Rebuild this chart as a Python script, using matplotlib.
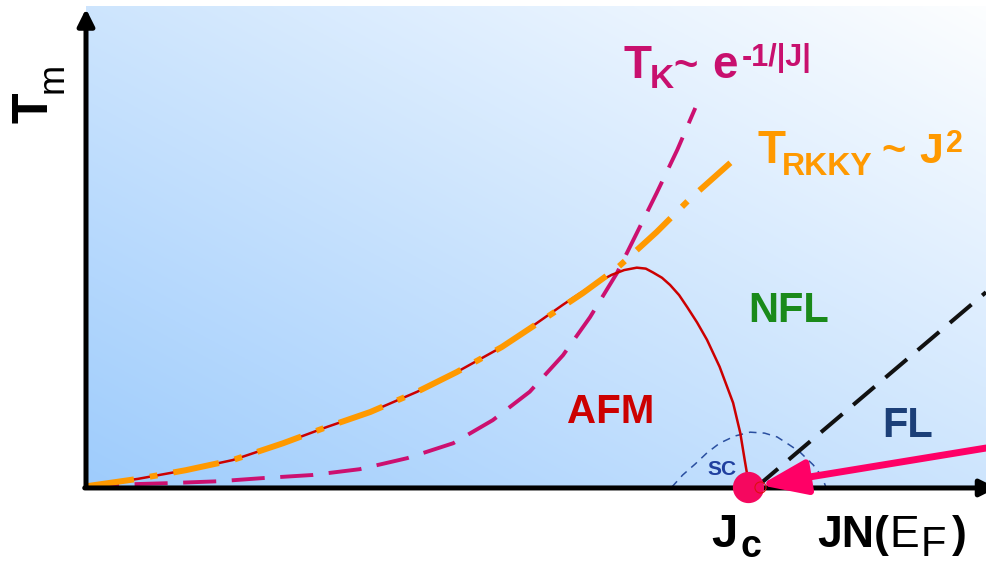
import numpy as np
import matplotlib.pyplot as plt
from matplotlib.patches import FancyArrowPatch

plt.rcParams['font.family'] = ['Liberation Sans', 'DejaVu Sans']

# Doniach phase diagram, J in arbitrary units (0..100), T in arbitrary units (0..100)
afm_j = [0.2, 5.8, 11.1, 16.3, 21.9, 26.8, 31.6, 36.8, 41.2, 46.2, 48.5, 50.8,
         53.0, 55.0, 56.8, 58.4, 59.8, 61.2, 62.2, 63.0, 64.0, 64.9, 65.9, 66.8,
         67.9, 69.0, 70.4, 71.9, 72.7, 73.2, 73.7]
afm_t = [0.2, 1.7, 3.5, 5.6, 9.1, 12.5, 15.6, 19.8, 23.9, 29.1, 32.0, 35.0,
         37.9, 40.4, 42.5, 44.1, 45.1, 45.6, 45.4, 44.6, 43.5, 42.0, 39.9, 37.4,
         34.2, 30.6, 25.0, 17.5, 11.2, 5.5, 0.0]

rkky_j = [0.2, 5.8, 11.1, 16.3, 21.9, 26.8, 31.6, 36.8, 41.2, 46.2, 50.4, 55.2,
          59.0, 63.4, 67.1, 71.6]
rkky_t = [0.2, 1.7, 3.5, 5.6, 9.1, 12.5, 15.6, 19.8, 23.9, 29.1, 34.3, 40.3,
          45.5, 53.0, 59.9, 67.4]

kondo_j = [0.0, 5.4, 9.2, 14.8, 20.0, 25.2, 30.4, 35.7, 40.8, 45.2, 49.3, 53.0,
           56.0, 59.0, 61.2, 63.4, 65.7, 67.7]
kondo_t = [0.3, 0.6, 0.8, 1.2, 1.9, 2.5, 3.7, 6.0, 9.1, 13.9, 19.8, 27.4,
           35.3, 44.5, 52.8, 61.1, 70.1, 78.8]

sc_j = [65.1, 66.3, 67.7, 69.0, 70.4, 72.1, 73.8, 75.4, 76.8, 78.2, 79.3, 80.8, 81.8, 82.2]
sc_t = [0.0, 2.5, 4.8, 7.1, 9.1, 10.6, 11.4, 11.2, 10.4, 8.7, 7.3, 4.6, 2.1, 0.0]

fl_j = [74.5, 100.0]
fl_t = [0.0, 40.5]

jc = 73.5
arrow_tail = (100.0, 8.1)
arrow_tip = (74.9, 0.4)

W, H = 986, 561
fig = plt.figure(figsize=(W / 100, H / 100), dpi=100)
ax = fig.add_axes([86 / W, 74 / H, 900 / W, 481 / H])
ax.set_xlim(0, 100)
ax.set_ylim(0, 100)
ax.axis('off')

# diagonal blue-to-white background
gx, gy = np.meshgrid(np.linspace(0, 1, 300), np.linspace(0, 1, 300))
u = ((gx + gy) / 2)[..., None]
c0 = np.array([0.62, 0.80, 0.99])
c1 = np.array([0.99, 0.995, 1.0])
ax.imshow(c0 + (c1 - c0) * u, extent=(0, 100, 0, 100), origin='lower',
          aspect='auto', zorder=0)

ax.plot(sc_j, sc_t, color='#2a4fa0', lw=1.1, ls=(0, (5, 4)), zorder=2)
ax.plot(kondo_j, kondo_t, color='#cc1070', lw=2.8, ls=(0, (8.5, 4)), zorder=3)
ax.plot(afm_j, afm_t, color='#cc0000', lw=1.8, zorder=4)
ax.plot(rkky_j, rkky_t, color='#ff9900', lw=4.3, ls=(0, (7.8, 2.7, 1.3, 2.7)), zorder=5)
ax.plot(fl_j, fl_t, color='#111111', lw=2.9, ls=(0, (7, 3.5)), zorder=5)

# axes arrows
ax.add_patch(FancyArrowPatch((0, -0.6), (0, 100), arrowstyle='-|>,head_length=10,head_width=5',
                             mutation_scale=1, lw=3.6, color='black', clip_on=False, zorder=6))
ax.add_patch(FancyArrowPatch((-0.45, -0.2), (101.5, -0.2), arrowstyle='-|>,head_length=10,head_width=5',
                             mutation_scale=1, lw=3.6, color='black', clip_on=False, zorder=6))

# quantum critical point and pointer
ax.plot([jc], [0], 'o', ms=21.5, color='#f5085f', clip_on=False, zorder=7)
ax.plot([arrow_tip[0]], [0], 'o', ms=8, mfc='none', mec='#dd1010', mew=0.8, clip_on=False, zorder=7)
ax.add_patch(FancyArrowPatch(arrow_tail, arrow_tip, arrowstyle='-|>,head_length=28,head_width=10.5',
                             mutation_scale=1, lw=5, color='#ff0066', shrinkA=0, shrinkB=0,
                             clip_on=False, zorder=8))


def at(x, y):
    return x / W, 1 - y / H


def label(x, y, s, size, color='black', weight='bold', **kw):
    fig.text(*at(x, y), s, fontsize=size, fontweight=weight, color=color,
             ha='left', va='baseline', **kw)


# T_m (rotated)
label(48, 123, 'T', 36, rotation=90, rotation_mode='anchor')
label(63, 93, 'm', 26, weight='normal', rotation=90, rotation_mode='anchor')

# T_K ~ e^-1/|J|
tk = '#c8106e'
label(623, 78, 'T', 33, tk)
label(650, 88, 'K', 24, tk)
label(673, 78, '~', 30, tk)
label(712, 78, 'e', 33, tk)
label(742, 66, '-1/|J|', 22, tk)

# T_RKKY ~ J^2
tr = '#ff9900'
label(757, 163, 'T', 33, tr)
label(782, 175, 'RKKY', 23, tr)
label(881, 163, '~', 30, tr)
label(919, 163, 'J', 31, tr)
label(946, 152, '2', 22, tr)

label(567, 423, 'AFM', 29, '#cc0000')
label(748, 322, 'NFL', 30, '#1a8a1a')
label(882, 437, 'FL', 30, '#1c3f78')
label(707, 475, 'SC', 15, '#1f3f9f')

# J_c
label(711, 547, 'J', 34)
label(741, 557, 'c', 27)

# JN(E_F)
label(817, 547, 'JN(', 32)
label(889, 547, 'E', 32, weight='normal')
label(921, 556, 'F', 30, weight='normal')
label(952, 547, ')', 32)

fig.savefig('out.png', dpi=100)
